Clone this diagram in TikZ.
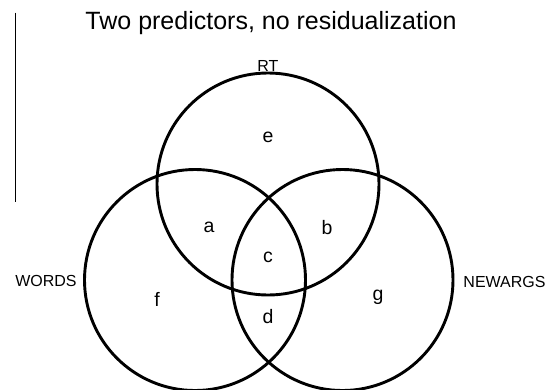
\documentclass[tikz,border=0pt]{standalone}
\usepackage{fontspec}
\setmainfont{Liberation Sans}
\usepackage{tikz}

\begin{document}
\begin{tikzpicture}[x=1pt, y=-1pt,
    venn/.style={line width=2.9pt},
    setname/.style={anchor=base, font=\fontsize{16}{19}\selectfont},
    region/.style={font=\fontsize{19.5}{23}\selectfont}]
    \useasboundingbox (0,0) rectangle (554,389);

    % Rule at the left margin
    \draw[line width=0.9pt] (15,12.5) -- (15,202);

    % Title
    \node[anchor=base, font=\fontsize{25}{30}\selectfont] (title) at (271,29.5)
        {Two predictors, no residualization};

    % The three sets
    \draw[venn] (268,184) circle (111);
    \draw[venn] (195,280) circle (110.5);
    \draw[venn] (342.5,280) circle (110.5);

    % Set names
    \node[setname] (rt)      at (268,71)    {RT};
    \node[setname] (words)   at (46,286)    {WORDS};
    \node[setname] (newargs) at (504.5,287) {NEWARGS};

    % Regions
    \node[region] (regA) at (209,227) {a};
    \node[region] (regB) at (327,228) {b};
    \node[region] (regC) at (268,257) {c};
    \node[region] (regD) at (268,317) {d};
    \node[region] (regE) at (268,137) {e};
    \node[region] (regF) at (157,299) {f};
    \node[region] (regG) at (378,297) {g};
\end{tikzpicture}
\end{document}
